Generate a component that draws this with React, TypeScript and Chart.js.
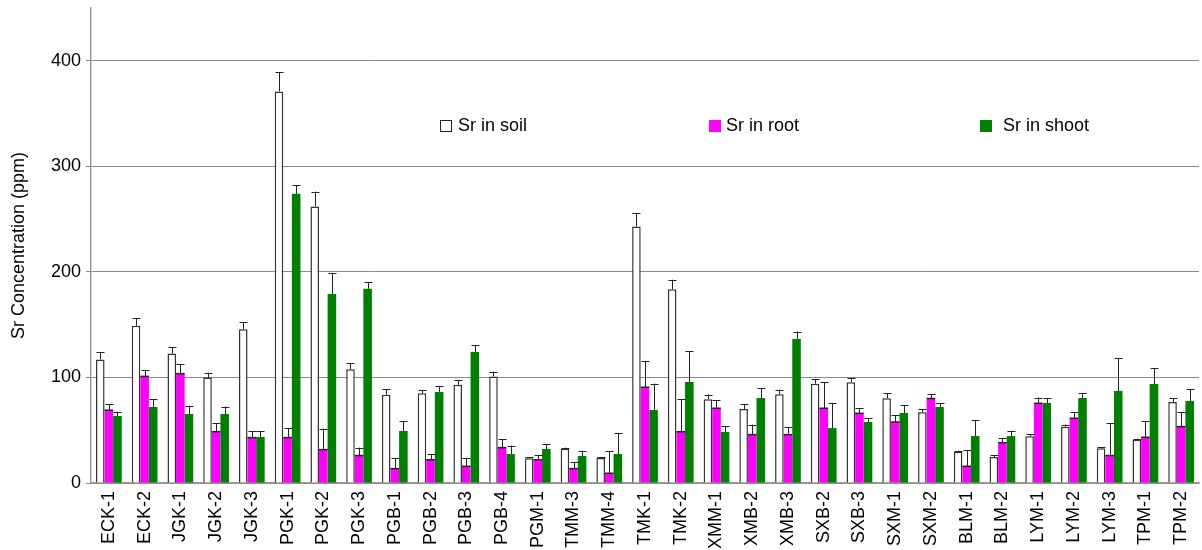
import React, { useEffect, useRef } from 'react';
import { Chart, registerables } from 'chart.js';

Chart.register(...registerables);

const categories = ['ECK-1','ECK-2','JGK-1','JGK-2','JGK-3','PGK-1','PGK-2','PGK-3','PGB-1','PGB-2','PGB-3','PGB-4','PGM-1','TMM-3','TMM-4','TMK-1','TMK-2','XMM-1','XMB-2','XMB-3','SXB-2','SXB-3','SXM-1','SXM-2','BLM-1','BLM-2','LYM-1','LYM-2','LYM-3','TPM-1','TPM-2'];

const soil = [117,149,122.6,100,145.6,371,262,107.7,83.7,85,93,101,23.5,32.5,23.7,243,183.6,79.3,70,84,94,95.4,80.3,67,29.7,24.6,44.2,53.4,32.9,41,76.8];
const soilErr = [7,7,6,4.5,6.5,18,14,5.7,5,3,4.5,4.5,1,1,1,12.5,9,4.5,4.5,4.5,4.5,4.5,4.5,3,1,1.5,2,2,1,1,3.5];

const root = [69,101,103.6,48.6,43,43,31.6,26,13.6,22,15.8,33.5,22,13.6,9.2,90.7,48.6,70.8,45.8,45.8,70.8,66,57.8,80,15.8,38.2,75.5,61.3,26,43.3,53.4];
const rootErr = [5.5,6,9,8,6,9,20,7.5,10,5.5,7.5,8,4.5,6,21,25,31,7.5,9.5,7,24.5,5,6.5,4,15,4.5,5.5,5.5,30.5,15,13.5];

const shoot = [63.5,72,65.4,65.4,43.6,274,179,184,49.3,86.3,124,27.5,32.2,25.6,27.5,69.2,95.7,48.3,80.6,136.5,52,57.8,66.3,72,44.5,44.5,75.8,80.6,87.2,93.8,77.7];
const shootErr = [4,7.5,8,7,5.5,8,20,6,9.5,5.5,6.5,8,4.5,5,19.5,25,29,5.5,9,7,24,4,7.5,3.5,15,5,4.5,4.5,31,15,11.5];

const yTicks = [0, 100, 200, 300, 400];
const seriesNames = ['Sr in soil', 'Sr in root', 'Sr in shoot'];

const FONT = "'Liberation Sans', Arial, Helvetica, sans-serif";

const errors = [soilErr, rootErr, shootErr];

const errorBarPlugin = {
  id: 'errorBars',
  afterDatasetsDraw(chart: any) {
    const ctx = chart.ctx;
    const yScale = chart.scales.y;
    ctx.save();
    chart.data.datasets.forEach((ds: any, di: number) => {
      const meta = chart.getDatasetMeta(di);
      meta.data.forEach((el: any, i: number) => {
        const v = ds.data[i];
        const e = errors[di][i];
        const x = Math.round(el.x) + 0.5;
        const yTop = el.y;
        const yErr = yScale.getPixelForValue(v + e);
        ctx.strokeStyle = '#222';
        ctx.lineWidth = 1;
        ctx.beginPath();
        ctx.moveTo(x, yTop);
        ctx.lineTo(x, yErr);
        ctx.moveTo(x - 4, Math.round(yErr) + 0.5);
        ctx.lineTo(x + 4, Math.round(yErr) + 0.5);
        ctx.stroke();
        if (di === 1) {
          const w = el.width;
          ctx.beginPath();
          ctx.lineWidth = 1.5;
          ctx.moveTo(el.x - w / 2, yTop);
          ctx.lineTo(el.x + w / 2, yTop);
          ctx.stroke();
        }
      });
    });
    ctx.restore();
  },
};

const legendPlugin = {
  id: 'innerLegend',
  afterDraw(chart: any) {
    const ctx = chart.ctx;
    const items = [
      { name: seriesNames[0], box: 440, text: 458, fill: '#ffffff', stroke: '#222' },
      { name: seriesNames[1], box: 709, text: 726, fill: '#ff00ff', stroke: null },
      { name: seriesNames[2], box: 980, text: 1003, fill: '#008000', stroke: null },
    ];
    const cy = 126;
    ctx.save();
    items.forEach((it) => {
      ctx.fillStyle = it.fill;
      ctx.fillRect(it.box, cy - 6, 12, 12);
      if (it.stroke) {
        ctx.strokeStyle = it.stroke;
        ctx.lineWidth = 1;
        ctx.strokeRect(it.box + 0.5, cy - 5.5, 11, 11);
      }
      ctx.fillStyle = '#000';
      ctx.font = `18px ${FONT}`;
      ctx.textBaseline = 'middle';
      ctx.textAlign = 'left';
      ctx.fillText(it.name, it.text, cy);
    });
    ctx.restore();
  },
};

export default function App() {
  const canvasRef = useRef<HTMLCanvasElement>(null);

  useEffect(() => {
    if (!canvasRef.current) return;
    Chart.defaults.font.family = FONT;
    const chart = new Chart(canvasRef.current, {
      type: 'bar',
      data: {
        labels: categories,
        datasets: [
          { label: seriesNames[0], data: soil, backgroundColor: '#ffffff', borderColor: '#333', borderWidth: 1.5, categoryPercentage: 0.72, barPercentage: 1 },
          { label: seriesNames[1], data: root, backgroundColor: '#ff00ff', borderWidth: 0, categoryPercentage: 0.72, barPercentage: 1 },
          { label: seriesNames[2], data: shoot, backgroundColor: '#008000', borderWidth: 0, categoryPercentage: 0.72, barPercentage: 1 },
        ],
      },
      options: {
        animation: false,
        responsive: true,
        maintainAspectRatio: false,
        layout: { padding: { top: 8, right: 3, left: 0, bottom: 0 } },
        plugins: {
          legend: { display: false },
          tooltip: { enabled: false },
        },
        scales: {
          x: {
            grid: { display: false, drawTicks: false },
            border: { display: true, color: '#999', width: 1.5 },
            ticks: {
              color: '#000',
              font: { size: 18, family: FONT },
              minRotation: 90,
              maxRotation: 90,
              autoSkip: false,
              padding: 8,
            },
            afterFit: (s: any) => {
              s.height = 67;
              s.paddingLeft = 0;
              s.paddingRight = 0;
            },
          },
          y: {
            min: 0,
            max: 450,
            afterBuildTicks: (s: any) => {
              s.ticks = yTicks.map((v) => ({ value: v }));
            },
            grid: { color: '#888', lineWidth: 1, tickLength: 5, drawTicks: true },
            border: { display: true, color: '#999', width: 1.5 },
            ticks: {
              color: '#000',
              font: { size: 18, family: FONT },
              padding: 5,
            },
            title: {
              display: true,
              text: 'Sr Concentration (ppm)',
              color: '#000',
              font: { size: 18, family: FONT },
              padding: { top: 8, bottom: 0 },
            },
            afterFit: (s: any) => {
              s.width = 91;
              s.paddingTop = 0;
              s.paddingBottom = 0;
            },
          },
        },
      },
      plugins: [errorBarPlugin, legendPlugin],
    });
    return () => chart.destroy();
  }, []);

  return (
    <div style={{ position: 'fixed', left: 0, top: 0, width: 1202, height: 550, background: '#fff' }}>
      <canvas ref={canvasRef} />
    </div>
  );
}
